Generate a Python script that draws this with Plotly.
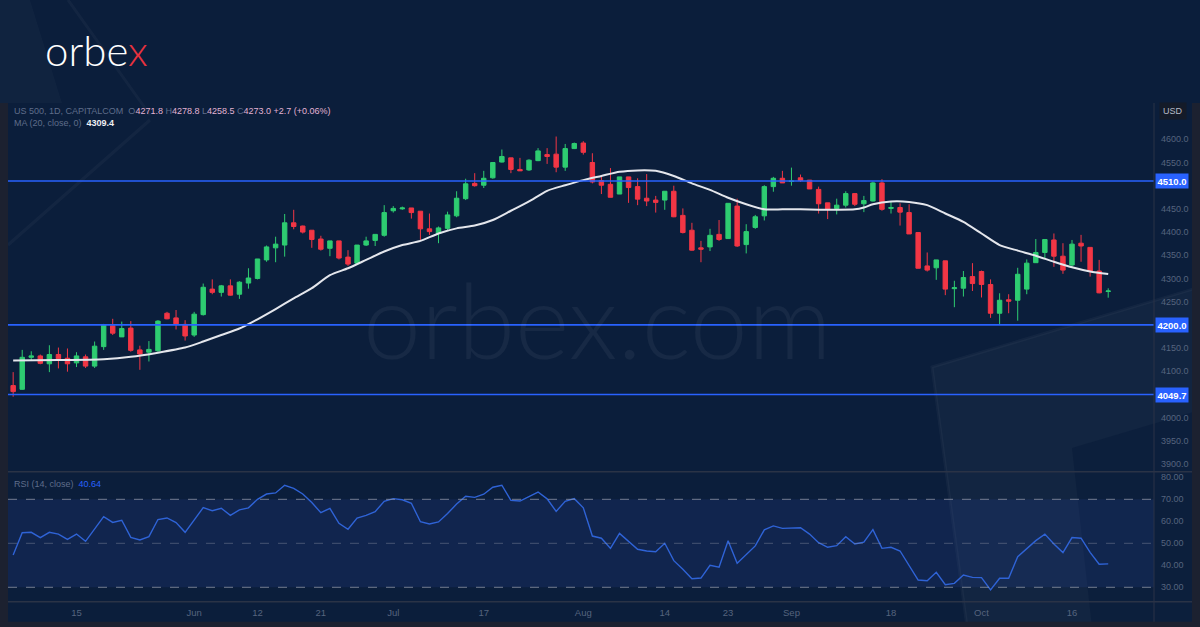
import plotly.graph_objects as go
import pandas as pd

# ---------------- data ----------------
dates = pd.bdate_range("2023-05-04", "2023-10-20")

open_ = [4069, 4061, 4130, 4133, 4116, 4136, 4128, 4118, 4131, 4111,
         4153, 4198, 4174, 4193, 4146, 4141, 4144, 4225, 4215, 4201,
         4178, 4222, 4277, 4270, 4284, 4266, 4290, 4300, 4340, 4366,
         4372, 4420, 4413, 4404, 4385, 4365, 4381, 4346, 4333, 4372,
         4382, 4393, 4446, 4450, 4452, 4445, 4407, 4397, 4408, 4435,
         4472, 4505, 4501, 4517, 4551, 4560, 4535, 4534, 4554, 4567,
         4568, 4540, 4580, 4592, 4550, 4511, 4503, 4482, 4519, 4498,
         4473, 4469, 4469, 4488, 4436, 4404, 4366, 4368, 4395, 4386,
         4456, 4373, 4410, 4435, 4498, 4516, 4509, 4517, 4512, 4492,
         4463, 4451, 4458, 4483, 4461, 4467, 4506, 4451, 4453, 4442,
         4399, 4327, 4323, 4338, 4278, 4279, 4304, 4315, 4287, 4225,
         4254, 4253, 4277, 4334, 4356, 4383, 4348, 4329, 4376, 4367,
         4316, 4271.8]
high = [4098, 4146, 4143, 4136, 4156, 4151, 4149, 4141, 4136, 4164,
        4202, 4213, 4207, 4208, 4155, 4165, 4210, 4228, 4232, 4210,
        4228, 4289, 4298, 4286, 4298, 4294, 4322, 4342, 4371, 4390,
        4439, 4448, 4414, 4404, 4392, 4381, 4381, 4361, 4372, 4390,
        4395, 4458, 4456, 4455, 4452, 4445, 4440, 4412, 4444, 4488,
        4515, 4527, 4532, 4550, 4578, 4560, 4560, 4557, 4581, 4581,
        4606, 4590, 4593, 4596, 4570, 4519, 4538, 4519, 4519, 4516,
        4525, 4478, 4488, 4500, 4451, 4420, 4381, 4407, 4426, 4462,
        4472, 4417, 4437, 4501, 4519, 4532, 4539, 4524, 4512, 4498,
        4463, 4472, 4488, 4483, 4478, 4509, 4514, 4467, 4462, 4460,
        4399, 4356, 4340, 4338, 4295, 4316, 4333, 4317, 4298, 4268,
        4266, 4323, 4341, 4385, 4384, 4397, 4376, 4383, 4394, 4367,
        4340, 4278.8]
low = [4045, 4060, 4124, 4115, 4098, 4106, 4099, 4109, 4107, 4107,
       4146, 4178, 4174, 4142, 4103, 4121, 4142, 4212, 4190, 4166,
       4174, 4220, 4266, 4261, 4263, 4256, 4278, 4298, 4336, 4335,
       4347, 4406, 4397, 4366, 4360, 4348, 4341, 4327, 4331, 4370,
       4370, 4390, 4442, 4448, 4429, 4383, 4394, 4376, 4404, 4432,
       4469, 4498, 4495, 4515, 4550, 4527, 4532, 4532, 4553, 4547,
       4529, 4532, 4579, 4567, 4505, 4482, 4475, 4482, 4463, 4458,
       4456, 4442, 4448, 4432, 4397, 4360, 4335, 4359, 4381, 4386,
       4368, 4354, 4407, 4425, 4487, 4506, 4500, 4508, 4493, 4440,
       4428, 4438, 4453, 4456, 4443, 4466, 4446, 4440, 4414, 4396,
       4322, 4315, 4297, 4264, 4238, 4261, 4273, 4259, 4215, 4200,
       4225, 4209, 4266, 4334, 4343, 4325, 4310, 4325, 4336, 4304,
       4268, 4258.5]
close = [4056, 4130, 4133, 4117, 4136, 4127, 4116, 4133, 4111, 4154,
         4200, 4182, 4192, 4145, 4137, 4147, 4208, 4213, 4202, 4176,
         4223, 4281, 4270, 4284, 4264, 4292, 4301, 4342, 4368, 4374,
         4420, 4412, 4400, 4384, 4363, 4381, 4344, 4331, 4372, 4381,
         4395, 4442, 4451, 4452, 4442, 4407, 4401, 4409, 4437, 4473,
         4504, 4500, 4516, 4550, 4563, 4535, 4532, 4555, 4575, 4563,
         4540, 4580, 4591, 4572, 4508, 4501, 4475, 4519, 4496, 4471,
         4467, 4464, 4488, 4433, 4399, 4361, 4363, 4393, 4384, 4462,
         4370, 4401, 4433, 4498, 4516, 4506, 4510, 4511, 4493, 4461,
         4450, 4458, 4483, 4460, 4468, 4506, 4449, 4453, 4443, 4396,
         4322, 4318, 4340, 4277, 4280, 4302, 4289, 4287, 4225, 4253,
         4251, 4309, 4333, 4356, 4384, 4348, 4318, 4374, 4370, 4316,
         4269, 4273.0]

# MA(20) read at selected bars (bar index, value)
ma_idx = [0, 5, 10, 13, 16, 19, 21, 23, 25, 27, 29, 31, 33, 35, 37, 39, 41,
          43, 45, 47, 49, 51, 53, 55, 57, 59, 61, 63, 65, 67, 69, 71, 73, 75,
          77, 79, 81, 83, 85, 87, 89, 91, 93, 94, 95, 97, 99, 101, 103, 105,
          107, 109, 111, 113, 115, 117, 119, 121]
ma_val = [4123, 4124, 4126, 4131, 4140, 4151, 4164, 4178, 4192, 4212, 4234,
          4257, 4279, 4307, 4322, 4340, 4358, 4372, 4381, 4397, 4408, 4414,
          4426, 4446, 4466, 4489, 4501, 4512, 4521, 4530, 4533, 4532, 4521,
          4505, 4491, 4474, 4460, 4449, 4449, 4449, 4448, 4448, 4449, 4453,
          4460, 4466, 4465, 4458, 4440, 4422, 4397, 4372, 4360, 4349, 4336,
          4324, 4315, 4309.4]

rsi = [44.7, 54.8, 55.0, 52.6, 55.0, 54.2, 51.8, 54.2, 50.9, 56.7,
       62.1, 59.5, 60.5, 52.7, 51.5, 53.0, 60.8, 61.5, 59.4, 55.0,
       60.6, 66.2, 64.8, 65.9, 62.7, 65.2, 66.1, 70.0, 72.4, 72.9,
       76.4, 75.0, 72.4, 68.5, 63.9, 65.9, 59.1, 56.4, 61.5, 62.7,
       64.4, 69.1, 70.3, 69.8, 68.2, 59.8, 58.8, 59.7, 63.5, 67.9,
       71.4, 70.9, 72.3, 75.5, 76.4, 69.5, 69.2, 71.4, 73.3, 70.2,
       64.5, 69.1, 70.3, 66.1, 53.3, 52.3, 47.7, 54.5, 51.1, 47.3,
       46.5, 46.2, 50.0, 42.1, 38.2, 33.9, 34.2, 40.0, 39.1, 51.2,
       40.9, 44.7, 48.8, 56.1, 57.9, 56.8, 56.8, 57.1, 54.2, 50.3,
       48.2, 48.9, 53.0, 49.7, 50.5, 56.2, 47.7, 48.2, 46.5, 40.2,
       33.3, 33.0, 36.8, 31.2, 31.8, 35.6, 34.5, 34.4, 28.8, 34.1,
       34.1, 43.9, 47.7, 51.2, 54.2, 49.7, 45.8, 52.6, 52.3, 45.9,
       40.5, 40.64]

levels = [4510.0, 4200.0, 4049.7]
# axis labels hidden behind the level tags (4050, 4200, 4500) are left out
price_ticks = [3900, 3950, 4000, 4100, 4150, 4250, 4300, 4350,
               4400, 4450, 4550, 4600]
rsi_ticks = [30, 40, 50, 60, 70, 80]
date_ticks = ["2023-05-15", "2023-06-01", "2023-06-12", "2023-06-21",
              "2023-07-03", "2023-07-17", "2023-08-01", "2023-08-14",
              "2023-08-23", "2023-09-01", "2023-09-18", "2023-10-02",
              "2023-10-16"]
date_labels = ["15", "Jun", "12", "21", "Jul", "17", "Aug", "14", "23",
               "Sep", "18", "Oct", "16"]

# ---------------- styling ----------------
W, H = 1200, 627
BG = "#0b1e3b"
FRAME = "#1c2130"
GREEN = "#2ecc71"
RED = "#f23645"
BLUE = "#2962ff"
AXIS_TXT = "#56647e"
FONT = "Liberation Sans"

bar = list(range(len(dates)))
pos = {d.strftime("%Y-%m-%d"): i for i, d in enumerate(dates)}
tick_pos = [pos[d] for d in date_ticks]


def px(x):
    return x / W


def py(y):
    return 1 - y / H


fig = go.Figure()

fig.add_trace(go.Candlestick(
    x=bar, open=open_, high=high, low=low, close=close,
    increasing=dict(line=dict(color=GREEN, width=1), fillcolor=GREEN),
    decreasing=dict(line=dict(color=RED, width=1), fillcolor=RED),
    whiskerwidth=0, xaxis="x", yaxis="y", showlegend=False,
    hoverinfo="skip"))

fig.add_trace(go.Scatter(
    x=ma_idx, y=ma_val, mode="lines", line=dict(color="#e4e6ec", width=2, shape="spline", smoothing=0.6),
    xaxis="x", yaxis="y", showlegend=False, hoverinfo="skip"))

fig.add_trace(go.Scatter(
    x=bar, y=rsi, mode="lines", line=dict(color="#2f63d6", width=1.4),
    xaxis="x2", yaxis="y2", showlegend=False, hoverinfo="skip"))

x_dom = [px(8), px(1154)]
x_range = [-0.57, 126.06]

shapes = []
# background decoration
shapes.append(dict(type="path", xref="paper", yref="paper", layer="below",
                   path=f"M {px(0)},{py(0)} L {px(30)},{py(0)} L {px(62)},{py(103)} L {px(0)},{py(103)} Z",
                   fillcolor="rgba(255,255,255,0.025)", line=dict(width=0)))
shapes.append(dict(type="line", xref="paper", yref="paper", layer="below",
                   x0=px(68), y0=py(0), x1=px(150), y1=py(115),
                   line=dict(color="rgba(255,255,255,0.035)", width=3)))
shapes.append(dict(type="line", xref="paper", yref="paper", layer="below",
                   x0=px(8), y0=py(245), x1=px(150), y1=py(120),
                   line=dict(color="rgba(255,255,255,0.035)", width=3)))
shapes.append(dict(type="path", xref="paper", yref="paper", layer="below",
                   path=f"M {px(932)},{py(367)} L {px(1200)},{py(287)} L {px(1200)},{py(627)} L {px(967)},{py(627)} Z",
                   fillcolor="rgba(255,255,255,0.03)", line=dict(color="rgba(255,255,255,0.035)", width=3)))
shapes.append(dict(type="path", xref="paper", yref="paper", layer="below",
                   path=f"M {px(1072)},{py(448)} L {px(1200)},{py(410)} L {px(1200)},{py(627)} L {px(1092)},{py(627)} Z",
                   fillcolor="rgba(11,30,59,0.75)", line=dict(width=0)))

# RSI band and guide lines
shapes.append(dict(type="rect", xref="paper", yref="y2", layer="below",
                   x0=x_dom[0], x1=x_dom[1], y0=30, y1=70,
                   fillcolor="rgba(45,75,170,0.17)", line=dict(width=0)))
for lv, col in [(70, "rgba(150,155,170,0.75)"), (50, "rgba(150,155,170,0.4)"), (30, "rgba(150,155,170,0.75)")]:
    shapes.append(dict(type="line", xref="paper", yref="y2", x0=x_dom[0], x1=x_dom[1],
                       y0=lv, y1=lv, line=dict(color=col, width=1, dash="dash")))

# horizontal levels
for lv in levels:
    shapes.append(dict(type="line", xref="paper", yref="y", x0=x_dom[0], x1=x_dom[1],
                       y0=lv, y1=lv, line=dict(color=BLUE, width=1.6)))

# pane separators
sep = "#2a3346"
shapes.append(dict(type="line", xref="paper", yref="paper", x0=px(8), x1=px(1192),
                   y0=py(471.7), y1=py(471.7), line=dict(color=sep, width=1.5)))
shapes.append(dict(type="line", xref="paper", yref="paper", x0=px(8), x1=px(1192),
                   y0=py(601.7), y1=py(601.7), line=dict(color=sep, width=1.5)))
shapes.append(dict(type="line", xref="paper", yref="paper", x0=px(1154), x1=px(1154),
                   y0=py(103), y1=py(622), line=dict(color=sep, width=1)))
# outer frame
shapes.append(dict(type="rect", xref="paper", yref="paper", x0=0, x1=px(8),
                   y0=0, y1=py(103), fillcolor=FRAME, line=dict(width=0)))
shapes.append(dict(type="rect", xref="paper", yref="paper", x0=px(1192), x1=1,
                   y0=0, y1=py(103), fillcolor=FRAME, line=dict(width=0)))
shapes.append(dict(type="rect", xref="paper", yref="paper", x0=0, x1=1,
                   y0=0, y1=py(621.7), fillcolor=FRAME, line=dict(width=0)))

annotations = []
# logo
annotations.append(dict(xref="paper", yref="paper", x=px(43), y=py(50), xanchor="left", yanchor="middle",
                        text="orbe<span style='color:#e8323f'>x</span>", showarrow=False,
                        font=dict(family="Lato", size=42, weight=300, color="#ffffff")))
# watermark
annotations.append(dict(xref="paper", yref="paper", x=px(597), y=py(318), xanchor="center", yanchor="middle",
                        text="orbex.com", showarrow=False,
                        font=dict(family="Lato", size=104, weight=300, color="rgba(255,255,255,0.05)")))
# legend / header
g = "#5f6d8a"
pk = "#e2b3d3"
hdr = (f"<span style='color:{g}'>US 500, 1D, CAPITALCOM  O</span><span style='color:{pk}'>4271.8</span>"
       f"<span style='color:{g}'> H</span><span style='color:{pk}'>4278.8</span>"
       f"<span style='color:{g}'> L</span><span style='color:{pk}'>4258.5</span>"
       f"<span style='color:{g}'> C</span><span style='color:{pk}'>4273.0 +2.7 (+0.06%)</span>")
annotations.append(dict(xref="paper", yref="paper", x=px(12), y=py(110.5), xanchor="left", yanchor="middle",
                        text=hdr, showarrow=False, font=dict(family=FONT, size=9, color=g)))
annotations.append(dict(xref="paper", yref="paper", x=px(12), y=py(122.5), xanchor="left", yanchor="middle",
                        text=f"<span style='color:{g}'>MA (20, close, 0)  </span><b><span style='color:#eef0f4'>{ma_val[-1]:.1f}</span></b>",
                        showarrow=False, font=dict(family=FONT, size=9, color=g)))
annotations.append(dict(xref="paper", yref="paper", x=px(12), y=py(483.5), xanchor="left", yanchor="middle",
                        text=f"<span style='color:{g}'>RSI (14, close)  </span><span style='color:{BLUE}'>{rsi[-1]:.2f}</span>",
                        showarrow=False, font=dict(family=FONT, size=9, color=g)))
# USD box
annotations.append(dict(xref="paper", yref="paper", x=px(1173), y=py(111), xanchor="center", yanchor="middle",
                        text="USD", showarrow=False, bgcolor="#141b29", borderpad=3,
                        font=dict(family=FONT, size=9, color="#b8bcc8")))
# level labels
for lv in levels:
    annotations.append(dict(xref="paper", yref="y", x=px(1155), y=lv, xanchor="left", yanchor="middle",
                            text=f"<b>{lv:.1f}</b>", showarrow=False, bgcolor=BLUE, borderpad=1.5,
                            font=dict(family=FONT, size=9.5, color="#ffffff")))

fig.update_layout(
    width=W, height=H, margin=dict(l=0, r=0, t=0, b=0),
    paper_bgcolor=BG, plot_bgcolor="rgba(0,0,0,0)",
    showlegend=False, hovermode=False,
    xaxis=dict(domain=x_dom, range=x_range, anchor="y", showgrid=False, zeroline=False,
               showticklabels=False, rangeslider=dict(visible=False), fixedrange=True),
    yaxis=dict(domain=[py(470), py(103)], range=[3887.0, 4678.3], side="right", anchor="x",
               tickvals=price_ticks, tickformat=".1f", showgrid=False, zeroline=False,
               ticks="", ticklabelstandoff=6,
               tickfont=dict(family=FONT, size=9, color=AXIS_TXT)),
    xaxis2=dict(domain=x_dom, range=x_range, anchor="y2", matches="x", showgrid=False, zeroline=False,
                tickvals=tick_pos, ticktext=date_labels, ticks="", ticklabelstandoff=4,
                tickfont=dict(family=FONT, size=9.5, color=AXIS_TXT)),
    yaxis2=dict(domain=[py(601.7), py(471.7)], range=[23.45, 82.55], side="right", anchor="x2",
                tickvals=rsi_ticks, tickformat=".2f", showgrid=False, zeroline=False,
                ticks="", ticklabelstandoff=6,
                tickfont=dict(family=FONT, size=9, color=AXIS_TXT)),
    shapes=shapes, annotations=annotations,
)

fig.write_html("out.html", config={"displayModeBar": False},
               post_script="document.body.style.margin='0';document.body.style.overflow='hidden';")
